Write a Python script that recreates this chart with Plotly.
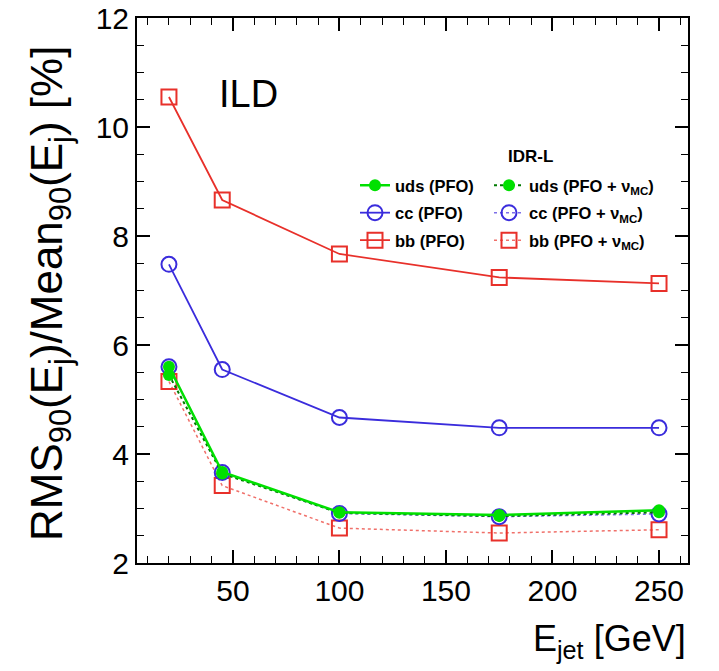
import plotly.graph_objects as go

# ---------------- data ----------------
E_jet = [20, 45, 100, 175, 250]

uds_pfo = [5.60, 3.67, 2.93, 2.88, 2.97]
cc_pfo = [7.48, 5.55, 4.67, 4.48, 4.48]
bb_pfo = [10.55, 8.66, 7.67, 7.24, 7.13]

uds_nu = [5.45, 3.64, 2.92, 2.86, 2.93]
cc_nu = [5.60, 3.66, 2.91, 2.85, 2.90]
bb_nu = [5.33, 3.42, 2.64, 2.55, 2.61]

x_ticks = [50, 100, 150, 200, 250]
y_ticks = [2, 4, 6, 8, 10, 12]

names_pfo = ["uds (PFO)", "cc (PFO)", "bb (PFO)"]
names_nu = ["uds (PFO + ν<sub>MC</sub>)", "cc (PFO + ν<sub>MC</sub>)", "bb (PFO + ν<sub>MC</sub>)"]

# ---------------- styling ----------------
GREEN = "#00e000"
BLUE = "#3a2cdc"
RED = "#e8302a"
BLUE_L = "#7d6fe8"
RED_L = "#f0706a"
FONT = "Liberation Sans, Arial, Helvetica, sans-serif"

W, H = 719, 671
FRAME_L, FRAME_R, FRAME_T, FRAME_B = 137, 688, 18, 563   # window pixel coords
L, T = FRAME_L, FRAME_T
R, B = W - FRAME_R, H - FRAME_B
PW, PH = FRAME_R - FRAME_L, FRAME_B - FRAME_T


def px(xp):
    return (xp - FRAME_L) / PW


def py(yp):
    return (FRAME_B - yp) / PH


fig = go.Figure()

# dotted (PFO + nu) series
fig.add_trace(go.Scatter(x=E_jet, y=bb_nu, name=names_nu[2], legend="legend2", legendrank=3,
                         legendgroup="bn", mode="lines+markers",
                         line=dict(color=RED_L, width=1.5, dash="dot"),
                         marker=dict(symbol="square-open", size=15, color=RED, line=dict(width=2))))
fig.add_trace(go.Scatter(x=E_jet, y=cc_nu, name=names_nu[1], legend="legend2", legendrank=2,
                         legendgroup="cn", mode="lines+markers",
                         line=dict(color=BLUE_L, width=1.5, dash="dot"),
                         marker=dict(symbol="circle-open", size=15, color=BLUE, line=dict(width=2))))
fig.add_trace(go.Scatter(x=E_jet, y=uds_nu, name=names_nu[0], legend="legend2", legendrank=1,
                         legendgroup="un", mode="lines+markers",
                         line=dict(color="#007a00", width=2, dash="dot"),
                         marker=dict(symbol="circle", size=12, color=GREEN)))

# solid (PFO) series
fig.add_trace(go.Scatter(x=E_jet, y=bb_pfo, name=names_pfo[2], legend="legend", legendrank=3,
                         legendgroup="bp", mode="lines+markers",
                         line=dict(color=RED, width=1.8),
                         marker=dict(symbol="square-open", size=15, color=RED, line=dict(width=2))))
fig.add_trace(go.Scatter(x=E_jet, y=cc_pfo, name=names_pfo[1], legend="legend", legendrank=2,
                         legendgroup="cp", mode="lines+markers",
                         line=dict(color=BLUE, width=1.8),
                         marker=dict(symbol="circle-open", size=15, color=BLUE, line=dict(width=2))))
fig.add_trace(go.Scatter(x=E_jet, y=uds_pfo, name=names_pfo[0], legend="legend", legendrank=1,
                         legendgroup="up", mode="lines+markers",
                         line=dict(color=GREEN, width=2.5),
                         marker=dict(symbol="circle", size=12, color=GREEN)))

axis_common = dict(
    showline=True, linecolor="black", linewidth=2, mirror="allticks",
    ticks="inside", tickcolor="black", tickwidth=1.5,
    showgrid=False, zeroline=False, automargin=False,
    ticklabeloverflow="allow",
    tickfont=dict(family=FONT, size=30, color="black"),
)

fig.update_xaxes(range=[5, 263.6], tickvals=x_ticks, ticklen=13,
                 minor=dict(dtick=10, tick0=0, ticklen=7, ticks="inside", tickcolor="black", tickwidth=1.2),
                 **axis_common)
fig.update_yaxes(range=[2, 12], tickvals=y_ticks, ticklen=13,
                 minor=dict(dtick=0.5, tick0=0, ticklen=7, ticks="inside", tickcolor="black", tickwidth=1.2),
                 **axis_common)

legend_common = dict(
    bgcolor="rgba(255,255,255,0)", borderwidth=0,
    font=dict(family=FONT, size=16.5, color="black", weight="bold"),
    xanchor="left", yanchor="top", tracegroupgap=3, itemwidth=30,
)

fig.update_layout(
    width=W, height=H,
    margin=dict(l=L, r=R, t=T, b=B, pad=0),
    paper_bgcolor="white", plot_bgcolor="white",
    showlegend=True,
    legend=dict(x=px(355), y=py(168), **legend_common),
    legend2=dict(x=px(489), y=py(168), **legend_common),
    annotations=[
        dict(text="ILD", x=px(217), y=py(94), xref="paper", yref="paper",
             xanchor="left", yanchor="middle", showarrow=False,
             font=dict(family=FONT, size=38, color="black")),
        dict(text="<b>IDR-L</b>", x=px(530), y=py(157), xref="paper", yref="paper",
             xanchor="center", yanchor="middle", showarrow=False,
             font=dict(family=FONT, size=17, color="black")),
        dict(text="E<sub>jet</sub> [GeV]", x=px(688), y=py(641), xref="paper", yref="paper",
             xanchor="right", yanchor="middle", showarrow=False,
             font=dict(family=FONT, size=36, color="black")),
        dict(text="RMS<sub>90</sub>(E<sub>j</sub>)/Mean<sub>90</sub>(E<sub>j</sub>) [%]",
             x=px(50), y=py(294), xref="paper", yref="paper", textangle=-90,
             xanchor="center", yanchor="middle", showarrow=False,
             font=dict(family=FONT, size=44, color="black")),
    ],
)

# remove the browser's default 8px body margin so the figure fills the window exactly
fig.write_html("out.html",
               config={"displayModeBar": False},
               post_script="document.body.style.margin='0px';document.body.style.overflow='hidden';")
